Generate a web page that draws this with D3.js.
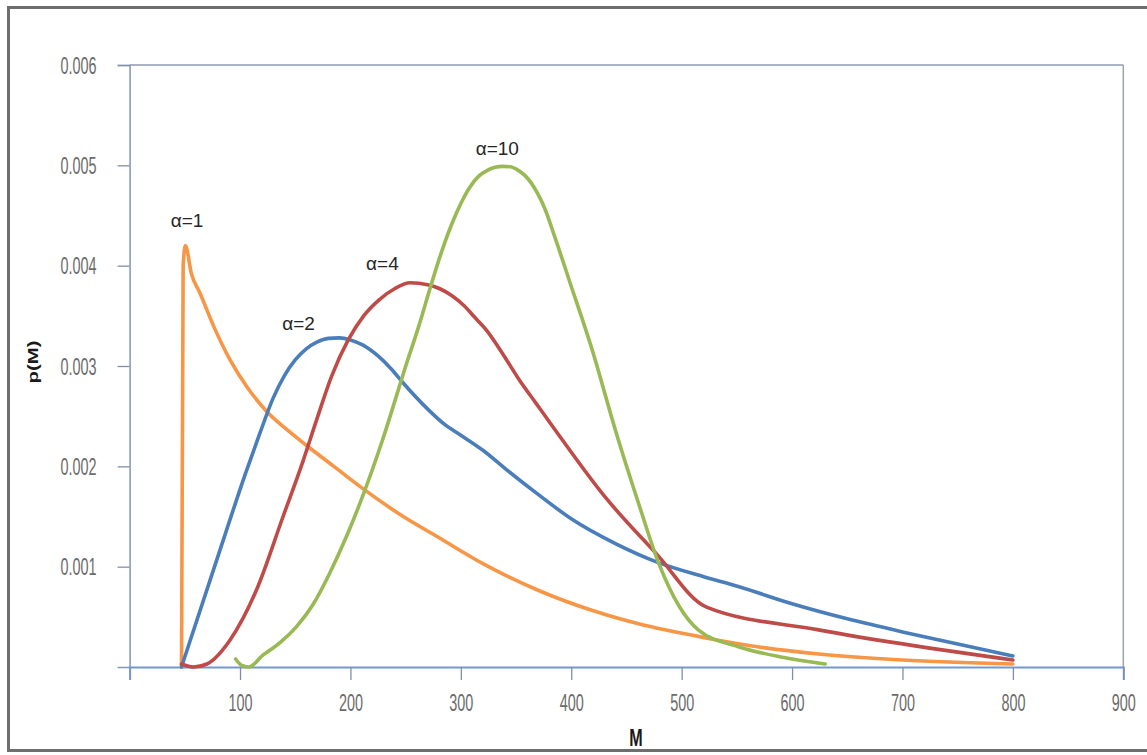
<!DOCTYPE html>
<html>
<head>
<meta charset="utf-8">
<script src="https://cdn.jsdelivr.net/npm/d3@7"></script>
<style>
  html, body { margin: 0; padding: 0; background: #ffffff; }
  svg { display: block; }
</style>
</head>
<body>
<svg id="chart" width="1147" height="755"></svg>
<script>
// Axis ticks
const xTicks = [100, 200, 300, 400, 500, 600, 700, 800, 900];
const yTicks = [0.001, 0.002, 0.003, 0.004, 0.005, 0.006];

// Curves p(M) for each alpha
const alpha1M = [47, 48.5, 50.5, 56, 64, 76, 91, 107, 124, 142, 160, 185, 211, 245, 280, 320, 371, 420, 461, 522, 570, 624, 700, 800];
const alpha1P = [0, 0.0040, 0.0042, 0.00392, 0.00372, 0.0034, 0.00306, 0.00278, 0.00255, 0.00237, 0.00221, 0.002, 0.00178, 0.00152, 0.00129, 0.00103, 0.00076, 0.00056, 0.00043, 0.00029, 0.0002, 0.00013, 0.00007, 0.00003];

const alpha2M = [47, 82, 105, 118, 130, 140, 150, 160, 170, 180, 190, 200, 211, 225, 237, 247, 270, 285, 300, 320, 341, 370, 401, 440, 479, 520, 552, 600, 650, 700, 750, 800];
const alpha2P = [0, 0.00117, 0.00193, 0.00233, 0.00268, 0.0029, 0.00306, 0.00317, 0.00324, 0.003275, 0.00328, 0.00326, 0.00321, 0.0031, 0.00297, 0.00284, 0.00257, 0.00242, 0.00231, 0.00216, 0.00197, 0.00172, 0.00147, 0.00123, 0.00104, 0.0009, 0.0008, 0.00063, 0.00048, 0.00035, 0.00023, 0.00011];

const alpha4M = [47, 58, 70, 91, 115, 139, 157, 169, 183, 198, 212, 226, 240, 254, 270, 281, 292, 303, 313, 323, 338, 353, 368, 383, 431, 477, 522, 624, 800];
const alpha4P = [0.00003, 0.0, 0.00003, 0.00027, 0.00077, 0.0015, 0.00205, 0.00245, 0.0029, 0.00326, 0.0035, 0.00366, 0.00377, 0.00383, 0.00381, 0.00377, 0.0037, 0.0036, 0.00348, 0.00336, 0.00312, 0.00286, 0.00263, 0.0024, 0.00169, 0.00113, 0.0006, 0.00037, 0.00007];

const alpha10M = [96, 101, 108, 121, 136, 151, 166, 181, 196, 211, 229, 251, 262, 272, 282, 292, 300, 308, 316, 324, 331, 338, 345, 352, 358, 364, 370, 376, 385, 398, 419, 440, 461, 479, 498, 515, 552, 590, 630];
const alpha10P = [0.00008, 0.00002, 0.0, 0.00012, 0.00024, 0.0004, 0.00062, 0.00093, 0.00129, 0.0017, 0.00226, 0.00303, 0.0034, 0.00377, 0.00412, 0.00442, 0.00462, 0.00478, 0.00489, 0.00495, 0.00498, 0.00499, 0.004985, 0.00495, 0.0049, 0.00482, 0.00471, 0.00457, 0.00429, 0.00386, 0.00316, 0.00236, 0.00163, 0.00104, 0.0006, 0.00037, 0.0002, 0.0001, 0.00003];

// Series names, colours and label anchors (data coordinates)
const seriesNames = ["α=1", "α=2", "α=4", "α=10"];
const seriesColors = ["#f79646", "#4a7ebb", "#be4b48", "#98b954"];
const labelM = [52, 153, 229, 333];
const labelP = [0.00439, 0.00336, 0.00396, 0.0051];

const seriesData = [
  d3.zip(alpha1M, alpha1P),
  d3.zip(alpha2M, alpha2P),
  d3.zip(alpha4M, alpha4P),
  d3.zip(alpha10M, alpha10P)
];

const svg = d3.select("#chart");

// Outer frame
svg.append("rect")
  .attr("x", 8.5).attr("y", 7.5)
  .attr("width", 1150).attr("height", 743)
  .attr("fill", "#ffffff")
  .attr("stroke", "#6e6e6e")
  .attr("stroke-width", 3);

const x = d3.scaleLinear().domain([0, 900]).range([129.6, 1123.3]);
const y = d3.scaleLinear().domain([0, 0.006]).range([667, 65]);

const tickFont = "'Liberation Sans', Arial, sans-serif";

// Top and right frame lines of the plot area
svg.append("line")
  .attr("x1", x(0)).attr("x2", x(900))
  .attr("y1", y(0.006)).attr("y2", y(0.006))
  .attr("stroke", "#8e9ab0").attr("stroke-width", 1.5);
svg.append("line")
  .attr("x1", x(900)).attr("x2", x(900))
  .attr("y1", y(0.006)).attr("y2", y(0))
  .attr("stroke", "#9ea3b3").attr("stroke-width", 1.5);

// Y axis
const yAxis = svg.append("g")
  .attr("transform", `translate(${x(0)},0)`)
  .call(d3.axisLeft(y).tickValues(yTicks).tickSize(12).tickFormat(d3.format(".3f")));
yAxis.select(".domain").attr("stroke", "#8296b8").attr("stroke-width", 1.5);
yAxis.selectAll(".tick line").attr("stroke", "#7f8fa8").attr("stroke-width", 1.3);
yAxis.selectAll(".tick text")
  .attr("x", 0).attr("dy", "0.35em")
  .attr("transform", "translate(-33,0) scale(0.96,1.55)")
  .attr("text-anchor", "end")
  .attr("fill", "#6b6b6b")
  .style("font-family", tickFont)
  .style("font-size", "15px");

// X axis
const xAxis = svg.append("g")
  .attr("transform", `translate(0,${y(0)})`)
  .call(d3.axisBottom(x).tickValues(xTicks).tickSize(13).tickFormat(d3.format("d")));
xAxis.select(".domain").attr("stroke", "#7397d4").attr("stroke-width", 2);
xAxis.selectAll(".tick line").attr("stroke", "#7f8fa8").attr("stroke-width", 1.3);
xAxis.selectAll(".tick text")
  .attr("y", 0).attr("dy", "0.35em")
  .attr("transform", "translate(0,36) scale(0.96,1.55)")
  .attr("fill", "#6b6b6b")
  .style("font-family", tickFont)
  .style("font-size", "15px");

// Curves
const line = d3.line()
  .x(d => x(d[0]))
  .y(d => y(d[1]))
  .curve(d3.curveMonotoneX);

svg.append("g")
  .selectAll("path")
  .data(seriesData)
  .join("path")
  .attr("d", line)
  .attr("fill", "none")
  .attr("stroke", (d, i) => seriesColors[i])
  .attr("stroke-width", 3.6)
  .attr("stroke-linejoin", "round")
  .attr("stroke-linecap", "round");

// Series labels
svg.append("g")
  .selectAll("text")
  .data(seriesNames)
  .join("text")
  .attr("x", (d, i) => x(labelM[i]))
  .attr("y", (d, i) => y(labelP[i]))
  .attr("text-anchor", "middle")
  .attr("fill", "#262626")
  .style("font-family", "'Liberation Sans', Arial, sans-serif")
  .style("font-size", "19px")
  .text(d => d);

// Axis titles
svg.append("text")
  .attr("transform", "translate(636,738) scale(0.95,1.4)")
  .attr("text-anchor", "middle")
  .attr("dy", "0.35em")
  .attr("fill", "#1a1a1a")
  .style("font-family", "'Liberation Sans', Arial, sans-serif")
  .style("font-weight", "bold")
  .style("font-size", "17px")
  .text("M");

svg.append("text")
  .attr("transform", "translate(33,362) rotate(-90) scale(1.45,1)")
  .attr("text-anchor", "middle")
  .attr("dy", "0.35em")
  .attr("fill", "#1a1a1a")
  .style("font-family", "'Liberation Sans', Arial, sans-serif")
  .style("font-weight", "bold")
  .style("font-size", "14px")
  .text("p(M)");
</script>
</body>
</html>
